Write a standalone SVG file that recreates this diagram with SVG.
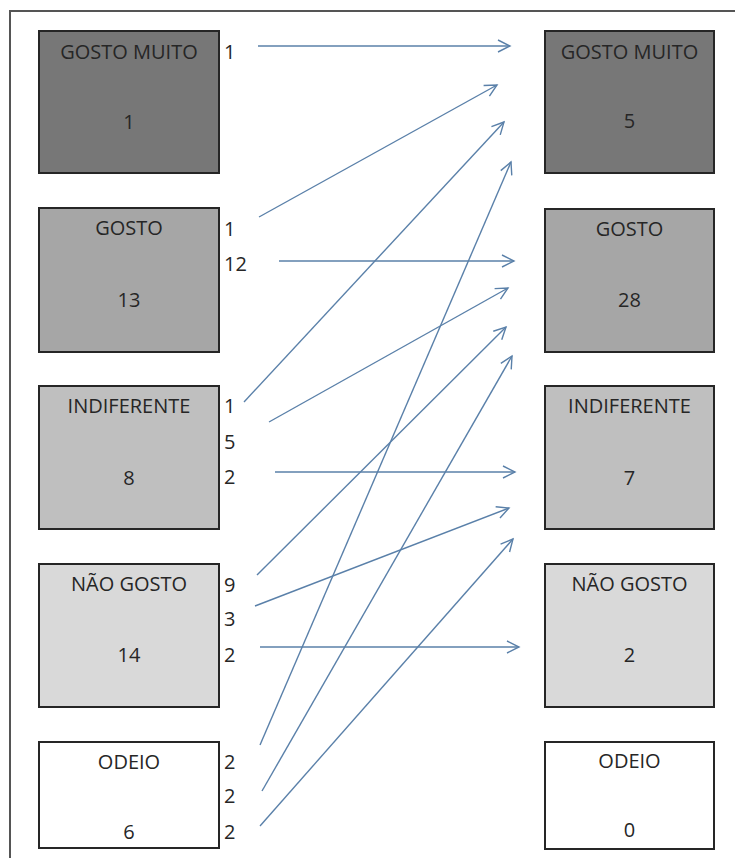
<svg xmlns="http://www.w3.org/2000/svg" width="735" height="859" viewBox="0 0 735 859">
<style>
  .box{stroke:#262626;stroke-width:2}
  .t{font-family:"Open Sans","Liberation Sans",sans-serif;font-size:20px;fill:#262626;text-anchor:middle}
  .n{font-family:"Open Sans","Liberation Sans",sans-serif;font-size:20px;fill:#262626}
  .c{stroke:#5a80a9;stroke-width:1.4;fill:none;marker-end:url(#ah)}
  .f1{fill:#777777}.f2{fill:#a6a6a6}.f3{fill:#bfbfbf}.f4{fill:#d9d9d9}.f5{fill:#ffffff}
</style>
<defs>
  <marker id="ah" markerUnits="userSpaceOnUse" markerWidth="16" markerHeight="16" refX="13" refY="7" orient="auto">
    <path d="M1,1 L13,7 L1,13" fill="none" stroke="#5a80a9" stroke-width="1.4"/>
  </marker>
</defs>
<rect width="735" height="859" fill="#ffffff"/>
<path d="M10,858 L10,11 L735,11" fill="none" stroke="#555555" stroke-width="2"/>

<g id="l-gosto-muito"><rect class="box f1" x="39" y="31" width="180" height="142"/><text class="t" x="129" y="59">GOSTO MUITO</text><text class="t" x="129" y="129">1</text><text class="n" x="224" y="59">1</text></g>
<g id="l-gosto"><rect class="box f2" x="39" y="208" width="180" height="144"/><text class="t" x="129" y="235">GOSTO</text><text class="t" x="129" y="307">13</text><text class="n" x="224" y="236">1</text><text class="n" x="224" y="271">12</text></g>
<g id="l-indiferente"><rect class="box f3" x="39" y="386" width="180" height="143"/><text class="t" x="129" y="413">INDIFERENTE</text><text class="t" x="129" y="485">8</text><text class="n" x="224" y="413">1</text><text class="n" x="224" y="449">5</text><text class="n" x="224" y="484">2</text></g>
<g id="l-nao-gosto"><rect class="box f4" x="39" y="564" width="180" height="143"/><text class="t" x="129" y="591">NÃO GOSTO</text><text class="t" x="129" y="662">14</text><text class="n" x="224" y="592">9</text><text class="n" x="224" y="626">3</text><text class="n" x="224" y="662">2</text></g>
<g id="l-odeio"><rect class="box f5" x="39" y="742" width="180" height="106"/><text class="t" x="129" y="769">ODEIO</text><text class="t" x="129" y="839">6</text><text class="n" x="224" y="769">2</text><text class="n" x="224" y="803">2</text><text class="n" x="224" y="839">2</text></g>

<g id="r-gosto-muito"><rect class="box f1" x="545" y="31" width="169" height="142"/><text class="t" x="629.5" y="59">GOSTO MUITO</text><text class="t" x="629.5" y="128">5</text></g>
<g id="r-gosto"><rect class="box f2" x="545" y="209" width="169" height="143"/><text class="t" x="629.5" y="236">GOSTO</text><text class="t" x="629.5" y="307">28</text></g>
<g id="r-indiferente"><rect class="box f3" x="545" y="386" width="169" height="143"/><text class="t" x="629.5" y="413">INDIFERENTE</text><text class="t" x="629.5" y="485">7</text></g>
<g id="r-nao-gosto"><rect class="box f4" x="545" y="564" width="169" height="143"/><text class="t" x="629.5" y="591">NÃO GOSTO</text><text class="t" x="629.5" y="662">2</text></g>
<g id="r-odeio"><rect class="box f5" x="545" y="742" width="169" height="107"/><text class="t" x="629.5" y="768">ODEIO</text><text class="t" x="629.5" y="837">0</text></g>

<g id="connectors">
  <line class="c" x1="258" y1="46" x2="510" y2="46"/>
  <line class="c" x1="259" y1="217" x2="497" y2="85"/>
  <line class="c" x1="244" y1="402" x2="504" y2="122"/>
  <line class="c" x1="260" y1="745" x2="511" y2="162"/>
  <line class="c" x1="279" y1="261" x2="514" y2="261"/>
  <line class="c" x1="269" y1="422" x2="508" y2="288"/>
  <line class="c" x1="257" y1="575" x2="506" y2="327"/>
  <line class="c" x1="262" y1="791" x2="512" y2="356"/>
  <line class="c" x1="275" y1="472" x2="515" y2="472"/>
  <line class="c" x1="255" y1="606" x2="509" y2="508"/>
  <line class="c" x1="260" y1="826" x2="513" y2="539"/>
  <line class="c" x1="260" y1="647" x2="519" y2="647"/>
</g>
</svg>
